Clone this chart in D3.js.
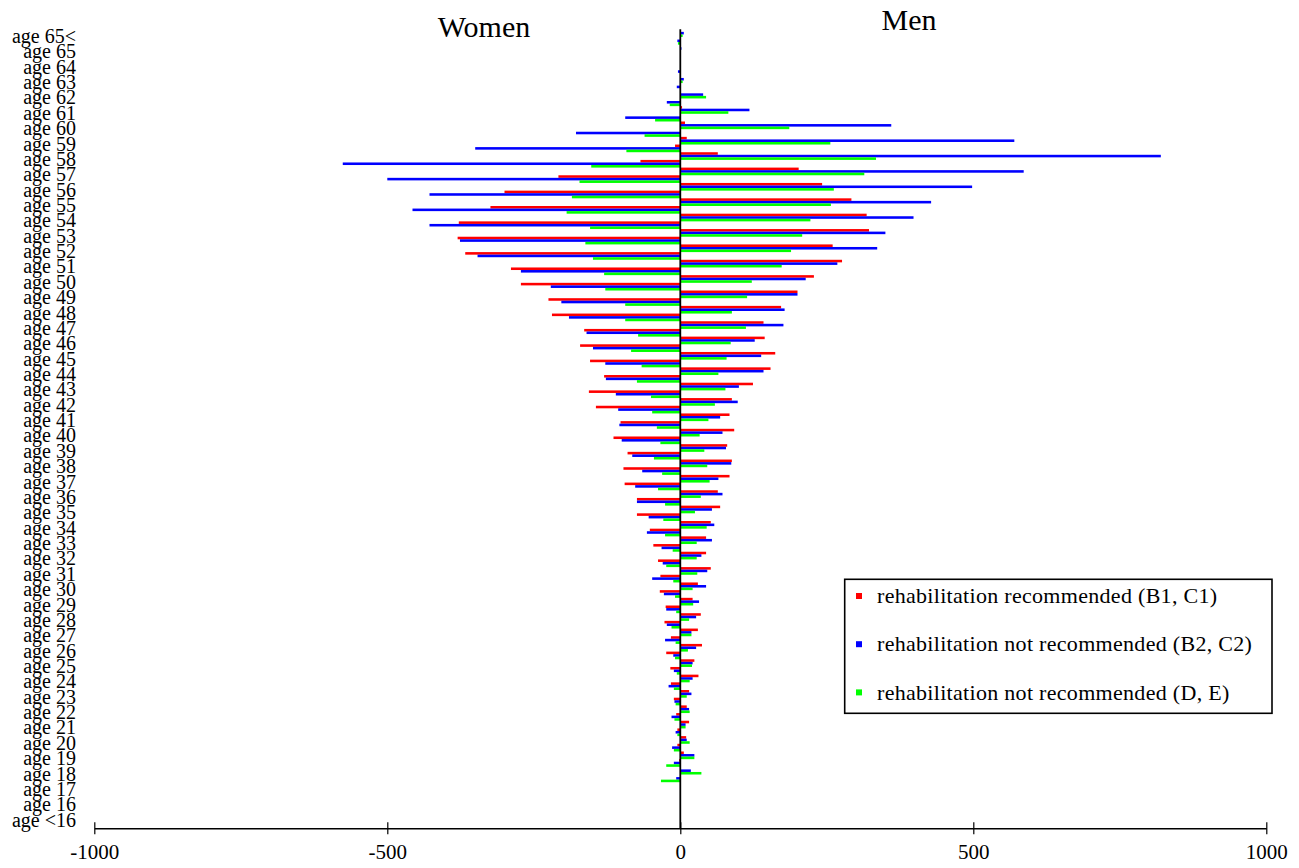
<!DOCTYPE html>
<html>
<head>
<meta charset="utf-8">
<script src="https://cdn.jsdelivr.net/npm/d3@7"></script>
<style>
  body { margin: 0; background: #fff; }
  text { font-family: "Liberation Serif", "Times New Roman", serif; fill: #000; }
</style>
</head>
<body>
<div id="pyramid"></div>
<script>
// Age groups, top of the chart first
var ages = ["age 65<"];
for (var a = 65; a >= 16; a--) ages.push("age " + a);
ages.push("age <16");

// Men (right side), values per age group, top to bottom
var menRec = [0, 0, 0, 0, 0, 3, 8, 11, 64, 202, 242, 292, 318, 322, 260, 276, 228, 200, 172, 142, 144, 162, 154, 124, 88, 84,
  92, 80, 88, 84, 64, 68, 52, 44, 44, 52, 30, 21, 35, 30, 37, 24, 31, 15, 11, 15, 10, 6, 0, 0, 0, 0];
var menNotRec = [6, 2, 1, 6, 39, 118, 360, 570, 820, 586, 498, 428, 398, 350, 336, 268, 214, 200, 178, 176, 127, 138, 142, 100, 98, 68,
  72, 78, 87, 65, 72, 54, 58, 54, 36, 46, 44, 32, 27, 19, 27, 21, 21, 19, 15, 9, 11, 24, 18, 0, 0, 0];
var menDE = [4, 0, 0, 4, 44, 82, 186, 256, 334, 314, 262, 257, 222, 208, 189, 173, 122, 114, 88, 112, 86, 79, 65, 77, 59, 48,
  33, 41, 46, 50, 35, 25, 45, 28, 28, 29, 21, 22, 15, 19, 13, 20, 16, 11, 16, 9, 16, 24, 36, 1, 0.6, 0];

// Women (left side), read as absolute values
var womenRec = [0, 0, 0, 0, 0, 0, 0, 9, 68, 208, 300, 324, 378, 380, 367, 289, 272, 225, 219, 164, 171, 154, 130, 156, 144, 102,
  114, 90, 97, 95, 74, 74, 52, 46, 38, 34, 35, 25, 27, 16, 24, 17, 16, 11, 7, 5, 5, 2, 0, 0, 0, 0];
var womenNotRec = [5, 0, 4, 6, 23, 94, 178, 350, 576, 500, 428, 457, 428, 376, 346, 272, 221, 203, 190, 160, 149, 128, 127, 110, 106, 104,
  100, 82, 65, 77, 74, 54, 57, 32, 30, 48, 28, 24, 23, 26, 12, 11, 20, 10, 15, 8, 14, 11, 7, 0, 0, 0];
var womenDE = [4, 0, 0, 0, 18, 43, 61, 92, 152, 172, 185, 194, 154, 162, 149, 130, 128, 94, 94, 72, 84, 66, 74, 50, 48, 40,
  34, 45, 31, 38, 26, 29, 26, 13, 24, 12, 9, 7, 15, 8, 9, 6, 11, 8, 10, 5, 11, 24, 33, 0, 0, 0];

var seriesNames = ["rehabilitation recommended (B1, C1)", "rehabilitation not recommended (B2, C2)", "rehabilitation not recommended (D, E)"];
var seriesColors = ["#ff0000", "#0000ff", "#00ff00"];
var xTicks = [-1000, -500, 0, 500, 1000];

// six bars per age group: men first (upper half), then women
var slots = [
  {key: "mR", vals: menRec, sign: 1, color: seriesColors[0]},
  {key: "mB", vals: menNotRec, sign: 1, color: seriesColors[1]},
  {key: "mG", vals: menDE, sign: 1, color: seriesColors[2]},
  {key: "wR", vals: womenRec, sign: -1, color: seriesColors[0]},
  {key: "wB", vals: womenNotRec, sign: -1, color: seriesColors[1]},
  {key: "wG", vals: womenDE, sign: -1, color: seriesColors[2]}
];

var width = 1299, height = 868;
var svg = d3.select("#pyramid").append("svg")
  .attr("width", width)
  .attr("height", height);

var x = d3.scaleLinear().domain([-1000, 1000]).range([94.3, 1266.3]);
var y = d3.scaleBand().domain(ages).range([29.3, 828.3]).paddingInner(0).paddingOuter(0);
var sub = d3.scaleBand().domain(slots.map(function(s) { return s.key; })).range([0, y.bandwidth()]);

var bars = [];
slots.forEach(function(s) {
  ages.forEach(function(age, i) {
    bars.push({age: age, key: s.key, value: s.sign * s.vals[i], color: s.color});
  });
});

svg.append("g").attr("class", "bars")
  .selectAll("rect")
  .data(bars.filter(function(d) { return d.value !== 0; }))
  .join("rect")
    .attr("x", function(d) { return x(Math.min(0, d.value)); })
    .attr("y", function(d) { return y(d.age) + sub(d.key); })
    .attr("width", function(d) { return Math.abs(x(d.value) - x(0)); })
    .attr("height", sub.bandwidth())
    .style("fill", function(d) { return d.color; });

// x axis, ticks crossing the line
var xAxis = svg.append("g")
  .attr("transform", "translate(0," + 828.3 + ")")
  .call(d3.axisBottom(x).tickValues(xTicks).tickSizeOuter(0).tickFormat(function(d) { return String(d); }));
xAxis.select(".domain").attr("stroke", "#000").attr("stroke-width", 1.5);
xAxis.selectAll(".tick line").attr("y1", -6).attr("y2", 6).attr("stroke", "#000").attr("stroke-width", 1.2);
xAxis.selectAll(".tick text")
  .attr("y", 31).attr("dy", 0)
  .style("font-size", "21px")
  .style("font-family", "'Liberation Serif', 'Times New Roman', serif")
  .attr("fill", "#000");

// vertical zero line
svg.append("line")
  .attr("x1", x(0)).attr("x2", x(0))
  .attr("y1", y.range()[0]).attr("y2", y.range()[1])
  .attr("stroke", "#000")
  .attr("stroke-width", 1.8);

// age labels
svg.append("g").attr("class", "age_labels")
  .selectAll("text")
  .data(ages)
  .join("text")
    .attr("x", 76)
    .attr("y", function(d) { return y(d) + y.bandwidth() / 2; })
    .attr("dy", "0.3em")
    .attr("text-anchor", "end")
    .style("font-size", "20px")
    .text(function(d) { return d; });

// titles
svg.append("text")
  .attr("x", 484).attr("y", 37)
  .attr("text-anchor", "middle")
  .style("font-size", "30px")
  .text("Women");
svg.append("text")
  .attr("x", 909).attr("y", 30)
  .attr("text-anchor", "middle")
  .style("font-size", "30px")
  .text("Men");

// legend
var legend = svg.append("g").attr("class", "legend");
legend.append("rect")
  .attr("x", 844.7).attr("y", 579.3)
  .attr("width", 427.3).attr("height", 134)
  .attr("fill", "#fff")
  .attr("stroke", "#000")
  .attr("stroke-width", 1.6);
var items = legend.selectAll("g.item")
  .data(seriesNames)
  .join("g")
    .attr("class", "item")
    .attr("transform", function(d, i) { return "translate(0," + (i * 48.2) + ")"; });
items.append("rect")
  .attr("x", 856).attr("y", 593)
  .attr("width", 6).attr("height", 6)
  .style("fill", function(d, i) { return seriesColors[i]; });
items.append("text")
  .attr("x", 877).attr("y", 603.3)
  .style("font-size", "22px")
  .style("letter-spacing", "0.3px")
  .text(function(d) { return d; });
</script>
</body>
</html>
